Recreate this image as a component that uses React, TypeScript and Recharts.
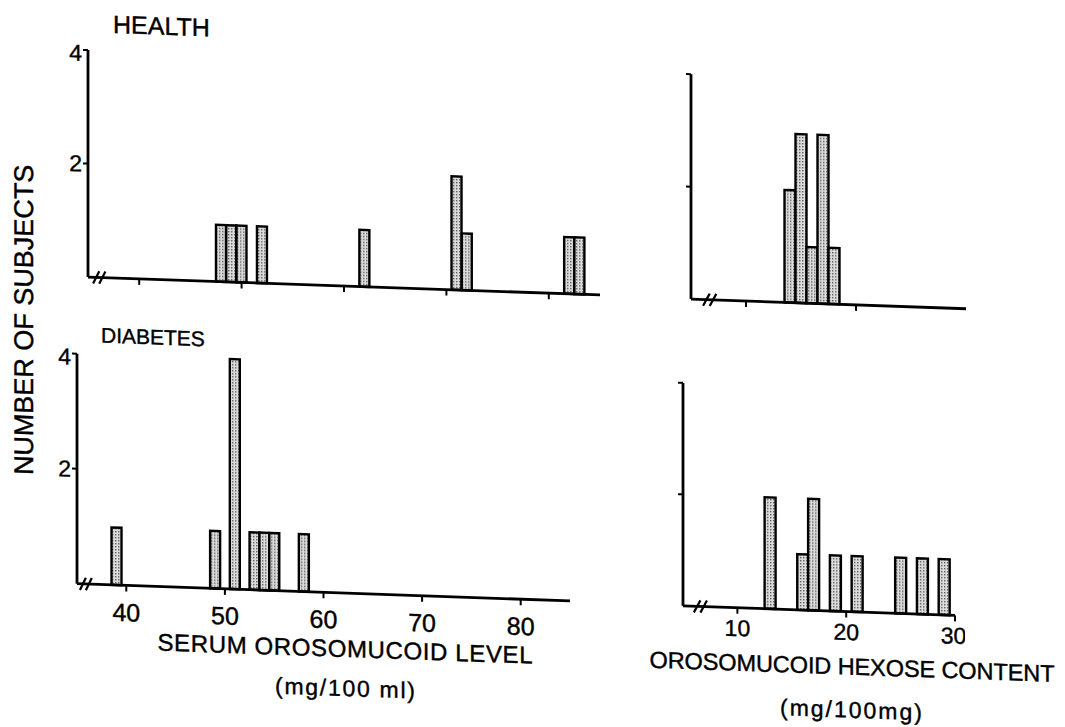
import { BarChart, Bar, XAxis, YAxis, ReferenceLine } from 'recharts'

// serum orosomucoid level (mg/100 ml) -> number of subjects
const healthSerumLevel = [48, 49, 50, 52, 62, 71, 72, 82, 83]
const healthSerumCount = [1, 1, 1, 1, 1, 2, 1, 1, 1]
const diabetesSerumLevel = [39, 49, 51, 53, 54, 55, 58]
const diabetesSerumCount = [1, 1, 4, 1, 1, 1, 1]

// orosomucoid hexose content (mg/100 mg) -> number of subjects
const healthHexose = [14, 15, 16, 17, 18]
const healthHexoseCount = [2, 3, 1, 3, 1]
const diabetesHexose = [13, 16, 17, 19, 21, 25, 27, 29]
const diabetesHexoseCount = [2, 1, 2, 1, 1, 1, 1, 1]

const serumTicks = [40, 50, 60, 70, 80]
const hexoseTicks = [10, 20, 30]
const countTicks = [2, 4]

const FONT = '"Liberation Sans", Arial, Helvetica, sans-serif'

const toRows = (xs: number[], ns: number[]) => xs.map((x, i) => ({ x, n: ns[i] }))
const blank = () => ''

interface PanelProps {
  id: string
  rows: { x: number; n: number }[]
  plot: { x: number; y: number; w: number; h: number }
  domain: [number, number]
  xTicks: number[]
  xLabels?: boolean
  yLabels?: boolean
  tickGap?: number
  tickFont?: number
  breaks: number[]
}

function Panel({ id, rows, plot, domain, xTicks, xLabels, yLabels, tickGap = 8, tickFont = 24, breaks }: PanelProps) {
  const yw = yLabels ? 40 : 12
  const xh = xLabels ? 50 : 20
  const top = 10
  const right = 10
  const width = yw + plot.w + right
  const height = top + plot.h + xh
  const line = { stroke: '#000', strokeWidth: 2.8 }
  const txt = { fill: '#000', stroke: '#000', strokeWidth: 0.4, fontSize: tickFont, fontFamily: FONT }

  return (
    <div style={{ position: 'absolute', left: plot.x - yw, top: plot.y - top }}>
      <BarChart
        width={width}
        height={height}
        data={rows}
        margin={{ top, right, left: 0, bottom: 0 }}
        barCategoryGap={0}
        barGap={0}
      >
        <defs>
          <pattern id={id} width="3" height="3" patternUnits="userSpaceOnUse">
            <rect width="3" height="3" fill="#dcdcdc" />
            <rect width="1.4" height="1.4" fill="#5c5c5c" />
          </pattern>
        </defs>
        <XAxis
          dataKey="x"
          type="number"
          domain={domain}
          ticks={xTicks}
          allowDataOverflow
          height={xh}
          axisLine={line}
          tickLine={{ stroke: '#000', strokeWidth: 2 }}
          tickSize={6}
          tickMargin={tickGap}
          tick={txt}
          tickFormatter={xLabels ? undefined : blank}
        />
        <YAxis
          type="number"
          domain={[0, 4]}
          ticks={countTicks}
          width={yw}
          axisLine={line}
          tickLine={{ stroke: '#000', strokeWidth: 2 }}
          tickSize={5}
          tickMargin={1}
          tick={{ ...txt, fontSize: 23 }}
          tickFormatter={yLabels ? undefined : blank}
        />
        <Bar dataKey="n" fill={`url(#${id})`} stroke="#000" strokeWidth={2.4} isAnimationActive={false} />
        {breaks.map((b) => (
          <ReferenceLine
            key={b}
            segment={[{ x: b - 0.3, y: -0.11 }, { x: b + 0.3, y: 0.11 }]}
            stroke="#000"
            strokeWidth={2.2}
            ifOverflow="visible"
          />
        ))}
      </BarChart>
    </div>
  )
}

export default function App() {
  return (
    <div style={{ position: 'fixed', left: 0, top: 0, width: 1065, height: 727, overflow: 'hidden', background: '#fff' }}>
      {/* the scanned figure is sheared a little, so the whole sheet is skewed */}
      <div
        style={{
          position: 'absolute',
          left: 0,
          top: 0,
          width: 1065,
          height: 727,
          transform: 'skewY(2deg)',
          transformOrigin: '0 0',
          fontFamily: FONT,
        }}
      >
        <Panel
          id="dotsA"
          rows={toRows(healthSerumLevel, healthSerumCount)}
          plot={{ x: 88, y: 47, w: 512, h: 227 }}
          domain={[35, 85]}
          xTicks={serumTicks}
          yLabels
          breaks={[35.8, 36.4]}
        />
        <Panel
          id="dotsB"
          rows={toRows(healthHexose, healthHexoseCount)}
          plot={{ x: 691, y: 50, w: 275, h: 225 }}
          domain={[5, 30]}
          xTicks={[10, 20]}
          breaks={[6.4, 7.0]}
        />
        <Panel
          id="dotsC"
          rows={toRows(diabetesSerumLevel, diabetesSerumCount)}
          plot={{ x: 77, y: 351, w: 493, h: 230 }}
          domain={[35, 85]}
          xTicks={serumTicks}
          xLabels
          yLabels
          tickGap={12}
          tickFont={25}
          breaks={[35.6, 36.2]}
        />
        <Panel
          id="dotsD"
          rows={toRows(diabetesHexose, diabetesHexoseCount)}
          plot={{ x: 683, y: 359, w: 272, h: 223 }}
          domain={[5, 30]}
          xTicks={hexoseTicks}
          xLabels
          tickGap={6}
          tickFont={23}
          breaks={[6.3, 6.9]}
        />
        <svg width={1065} height={760} style={{ position: 'absolute', left: 0, top: 0, pointerEvents: 'none' }}>
          <g fill="#000" stroke="#000" strokeWidth={0.4} fontFamily={FONT}>
            <text x={113} y={29} fontSize={25}>HEALTH</text>
            <text x={101} y={339} fontSize={21}>DIABETES</text>
            <text transform="translate(33,319) rotate(-90)" textAnchor="middle" fontSize={27}>
              NUMBER OF SUBJECTS
            </text>
            <text x={345} y={645} textAnchor="middle" fontSize={24} textLength={375} lengthAdjust="spacing">
              SERUM OROSOMUCOID LEVEL
            </text>
            <text x={345} y={684} textAnchor="middle" fontSize={23} textLength={140} lengthAdjust="spacing">
              (mg/100 ml)
            </text>
            <text x={852} y={645} textAnchor="middle" fontSize={23.5} textLength={405} lengthAdjust="spacing">
              OROSOMUCOID HEXOSE CONTENT
            </text>
            <text x={851} y={688} textAnchor="middle" fontSize={23} textLength={142} lengthAdjust="spacing">
              (mg/100mg)
            </text>
          </g>
        </svg>
      </div>
    </div>
  )
}
